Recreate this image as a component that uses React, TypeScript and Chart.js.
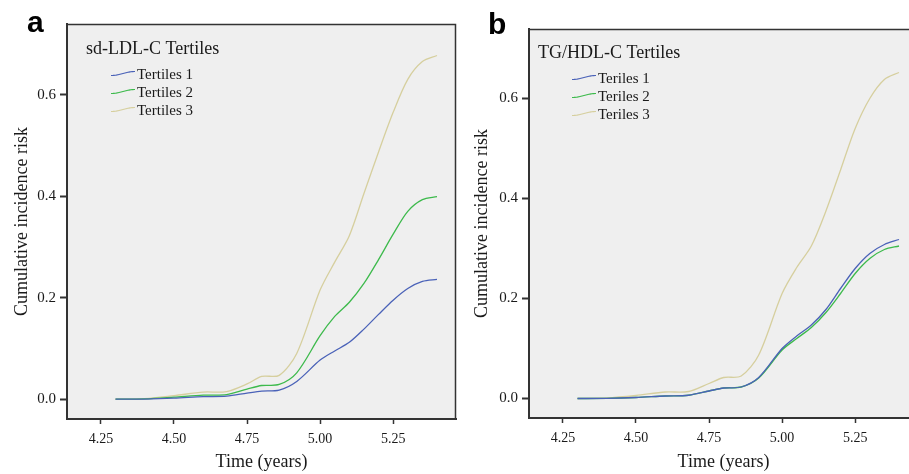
import React, { useEffect, useRef } from "react";
import { Chart, registerables } from "chart.js";
Chart.register(...registerables);

const TIMES = [4.30, 4.40, 4.50, 4.60, 4.68, 4.75, 4.80, 4.86, 4.92, 5.00, 5.05, 5.10, 5.15, 5.20, 5.25, 5.30, 5.35, 5.40];
const A_T1 = [0, 0.0003, 0.002, 0.005, 0.006, 0.012, 0.016, 0.018, 0.035, 0.077, 0.095, 0.112, 0.138, 0.167, 0.195, 0.218, 0.232, 0.236];
const A_T2 = [0, 0.0005, 0.004, 0.008, 0.009, 0.02, 0.027, 0.029, 0.052, 0.125, 0.163, 0.191, 0.228, 0.275, 0.325, 0.37, 0.393, 0.399];
const A_T3 = [0, 0.001, 0.007, 0.014, 0.015, 0.03, 0.045, 0.047, 0.09, 0.215, 0.27, 0.322, 0.405, 0.487, 0.565, 0.63, 0.665, 0.677];
const B_T1 = [0, 0.0003, 0.002, 0.005, 0.0065, 0.015, 0.021, 0.023, 0.042, 0.1, 0.125, 0.147, 0.178, 0.22, 0.26, 0.29, 0.308, 0.318];
const B_T2 = [0, 0.0003, 0.002, 0.005, 0.0065, 0.015, 0.021, 0.023, 0.041, 0.097, 0.12, 0.142, 0.172, 0.21, 0.25, 0.28, 0.298, 0.305];
const B_T3 = [0, 0.001, 0.006, 0.013, 0.014, 0.03, 0.042, 0.045, 0.087, 0.21, 0.262, 0.305, 0.375, 0.457, 0.54, 0.6, 0.638, 0.652];

const X_TICKS = [4.25, 4.5, 4.75, 5.0, 5.25];
const Y_TICKS = [0.0, 0.2, 0.4, 0.6];
const A_LEGEND_TITLE = "sd-LDL-C Tertiles";
const A_LABELS = ["Tertiles 1", "Tertiles 2", "Tertiles 3"];
const B_LEGEND_TITLE = "TG/HDL-C Tertiles";
const B_LABELS = ["Teriles 1", "Teriles 2", "Teriles 3"];
const COLORS = ["#4a62b8", "#3dba4c", "#d6cf9e"];

const SERIF = "'Liberation Serif', 'Times New Roman', serif";

type PanelProps = {
  left: number;
  width: number;
  letter: string;
  letterX: number;
  letterY: number;
  padTop: number;
  yAxisW: number;
  xAxisH: number;
  padRight: number;
  legendTitle: string;
  labels: string[];
  series: number[][];
  legendTitleX: number;
  legendTitleY: number;
  waveX: number;
  textX: number;
  rowY: number[];
};

function Panel(p: PanelProps) {
  const ref = useRef<HTMLCanvasElement | null>(null);
  useEffect(() => {
    if (!ref.current) return;
    const decor = {
      id: "decor",
      beforeDraw(chart: any) {
        const { ctx, chartArea: a } = chart;
        ctx.save();
        ctx.fillStyle = "#efefef";
        ctx.fillRect(a.left, a.top, a.right - a.left, a.bottom - a.top);
        ctx.restore();
      },
      afterDraw(chart: any) {
        const { ctx, chartArea: a } = chart;
        ctx.save();
        ctx.strokeStyle = "#333";
        ctx.lineWidth = 1.5;
        ctx.beginPath();
        ctx.moveTo(a.left, a.top + 0.5);
        ctx.lineTo(a.right - 0.5, a.top + 0.5);
        ctx.lineTo(a.right - 0.5, a.bottom);
        ctx.stroke();
        // legend
        ctx.fillStyle = "#1a1a1a";
        ctx.textBaseline = "middle";
        ctx.textAlign = "left";
        ctx.font = `18px ${SERIF}`;
        ctx.fillText(p.legendTitle, p.legendTitleX, p.legendTitleY);
        ctx.font = `15px ${SERIF}`;
        p.labels.forEach((lab, i) => {
          const y = p.rowY[i];
          ctx.strokeStyle = COLORS[i];
          ctx.lineWidth = 1.2;
          ctx.beginPath();
          const w = 24;
          for (let k = 0; k <= w; k++) {
            const t = k / w;
            const yy = y + 2 * Math.cos(Math.PI * t) - 0.5;
            if (k === 0) ctx.moveTo(p.waveX + k, yy);
            else ctx.lineTo(p.waveX + k, yy);
          }
          ctx.stroke();
          ctx.fillStyle = "#1a1a1a";
          ctx.fillText(lab, p.textX, y + 1);
        });
        // panel letter
        ctx.font = `bold 30px 'Liberation Sans', Arial, sans-serif`;
        ctx.textBaseline = "alphabetic";
        ctx.fillStyle = "#000";
        ctx.fillText(p.letter, p.letterX, p.letterY);
        ctx.restore();
      },
    };
    const chart = new Chart(ref.current, {
      type: "line",
      data: {
        datasets: p.series.map((s, i) => ({
          label: p.labels[i],
          data: TIMES.map((t, j) => ({ x: t, y: s[j] })),
          borderColor: COLORS[i],
          borderWidth: 1.3,
          pointRadius: 0,
          fill: false,
          tension: 0.3,
        })),
      },
      options: {
        animation: false,
        responsive: false,
        maintainAspectRatio: false,
        layout: { padding: { left: 0, top: p.padTop, right: p.padRight, bottom: 0 } },
        plugins: { legend: { display: false }, tooltip: { enabled: false } },
        scales: {
          x: {
            type: "linear",
            min: 4.134,
            max: 5.465,
            afterBuildTicks: (s: any) => {
              s.ticks = X_TICKS.map((v) => ({ value: v }));
            },
            afterFit: (s: any) => {
              s.height = p.xAxisH;
            },
            ticks: {
              color: "#1a1a1a",
              font: { family: SERIF, size: 14 },
              padding: 7,
              maxRotation: 0,
              autoSkip: false,
              callback: (v: any) => Number(v).toFixed(2),
            },
            grid: { drawOnChartArea: false, tickLength: 5, tickColor: "#333", tickWidth: 1.5 },
            border: { display: true, color: "#333", width: 2 },
            title: {
              display: true,
              text: "Time (years)",
              color: "#1a1a1a",
              font: { family: SERIF, size: 18 },
              padding: { top: 0, bottom: 1 },
            },
          },
          y: {
            type: "linear",
            min: -0.039,
            max: 0.739,
            afterBuildTicks: (s: any) => {
              s.ticks = Y_TICKS.map((v) => ({ value: v }));
            },
            afterFit: (s: any) => {
              s.width = p.yAxisW;
            },
            ticks: {
              color: "#1a1a1a",
              font: { family: SERIF, size: 15 },
              padding: 4,
              callback: (v: any) => Number(v).toFixed(1),
            },
            grid: { drawOnChartArea: false, tickLength: 7, tickColor: "#333", tickWidth: 2 },
            border: { display: true, color: "#333", width: 2 },
            title: {
              display: true,
              text: "Cumulative incidence risk",
              color: "#1a1a1a",
              font: { family: SERIF, size: 18 },
              padding: { top: 11, bottom: 0 },
            },
          },
        },
      },
      plugins: [decor],
    });
    return () => chart.destroy();
  }, []);
  return (
    <canvas
      ref={ref}
      width={p.width}
      height={474}
      style={{ position: "absolute", left: p.left, top: 0, width: p.width, height: 474 }}
    />
  );
}

export default function App() {
  return (
    <div
      style={{
        position: "absolute",
        left: 0,
        top: 0,
        width: 909,
        height: 474,
        overflow: "hidden",
        background: "#fff",
      }}
    >
      <Panel
        left={0}
        width={460}
        letter="a"
        letterX={27}
        letterY={32}
        padTop={24}
        yAxisW={67}
        xAxisH={55}
        padRight={4}
        legendTitle={A_LEGEND_TITLE}
        labels={A_LABELS}
        series={[A_T1, A_T2, A_T3]}
        legendTitleX={86}
        legendTitleY={49}
        waveX={111}
        textX={137}
        rowY={[74, 92, 110]}
      />
      <Panel
        left={460}
        width={458}
        letter="b"
        letterX={28}
        letterY={34}
        padTop={29}
        yAxisW={69}
        xAxisH={56}
        padRight={0}
        legendTitle={B_LEGEND_TITLE}
        labels={B_LABELS}
        series={[B_T1, B_T2, B_T3]}
        legendTitleX={78}
        legendTitleY={53}
        waveX={112}
        textX={138}
        rowY={[78, 96, 114]}
      />
    </div>
  );
}
